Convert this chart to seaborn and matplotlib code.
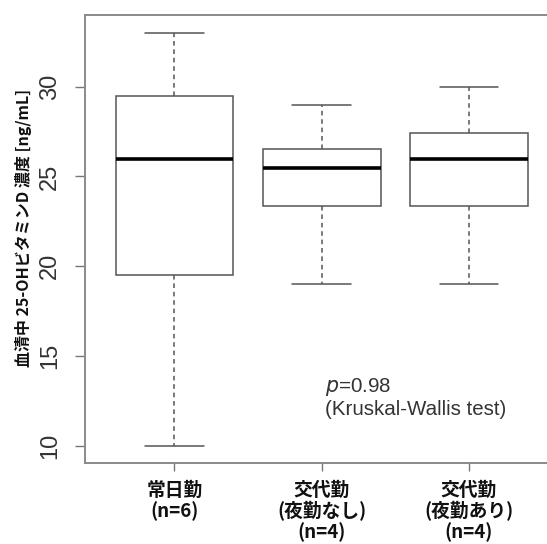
import matplotlib
matplotlib.use("Agg")
import matplotlib.pyplot as plt
import seaborn as sns
import pandas as pd

# ---- data ----
groups = ["常日勤\n(n=6)", "交代勤\n(夜勤なし)\n(n=4)", "交代勤\n(夜勤あり)\n(n=4)"]
whisker_low = [10.0, 19.0, 19.0]
q1 = [19.5, 23.35, 23.35]
median = [26.0, 25.45, 26.0]
q3 = [29.5, 26.55, 27.4]
whisker_high = [33.0, 29.0, 30.0]
yticks = [10, 15, 20, 25, 30]
ylabel = "血清中 25-OHビタミンD 濃度 [ng/mL]"
p_text = "=0.98"
test_text = "(Kruskal-Wallis test)"

rows = []
for g, a, b, c, d, e in zip(groups, whisker_low, q1, median, q3, whisker_high):
    for v in (a, b, c, d, e):
        rows.append({"group": g, "value": v})
df = pd.DataFrame(rows)

sns.set_theme(style="white")
plt.rcParams["font.family"] = ["Liberation Sans", "DejaVu Sans"]

W, H = 547, 544
fig = plt.figure(figsize=(W / 100, H / 100), dpi=100)
ax = fig.add_axes([84.5 / W, 1 - 462.7 / H, (W - 84.5) / W, (462.7 - 15) / H])

box_col = "#555555"
sns.boxplot(
    data=df, x="group", y="value", order=groups, ax=ax,
    width=0.8, color="white", linecolor=box_col, linewidth=1.1,
    showfliers=False, whis=1.5,
    medianprops={"color": "black", "linewidth": 2.6},
    whiskerprops={"linestyle": (0, (3, 2.5)), "color": box_col},
    capprops={"color": box_col},
    boxprops={"facecolor": "white", "edgecolor": box_col},
)

ax.set_xlim(-0.611, 2.53)
ax.set_ylim(9.05, 34.0)
ax.set_yticks(yticks)
ax.set_yticklabels([str(t) for t in yticks], rotation=90, va="center",
                   fontsize=17, color="#333333")
ax.set_xticks(range(len(groups)))
ax.set_xticklabels(groups, fontsize=13.5, fontweight="bold", linespacing=1.08,
                   family=["Noto Sans CJK JP", "DejaVu Sans"], color="#111111")

ax.tick_params(axis="y", which="both", left=True, length=7, width=1.0,
               color="#777777", pad=10)
ax.tick_params(axis="x", which="both", bottom=True, length=6, width=1.0,
               color="#777777", pad=7)

for side in ["left", "top", "bottom"]:
    ax.spines[side].set_color("#8a8a8a")
    ax.spines[side].set_linewidth(1.4)
ax.spines["right"].set_visible(False)

ax.set_xlabel("")
ax.set_ylabel(ylabel, fontsize=11.5, fontweight="bold",
              family=["Noto Sans CJK JP", "DejaVu Sans"], color="#111111")
ax.yaxis.set_label_coords(-0.1135, 0.525)

ax.text(1.02, 13.27, "$\\it{p}$" + p_text, fontsize=14.8, color="#333333",
        ha="left", va="center")
ax.text(1.02, 12.0, test_text, fontsize=14.8, color="#333333",
        ha="left", va="center")

fig.savefig("out.png", dpi=100)
